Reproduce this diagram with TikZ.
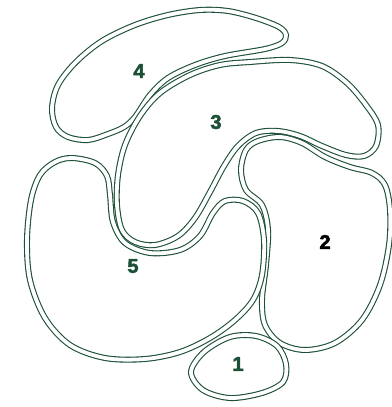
\documentclass[tikz,border=0pt]{standalone}
\usepackage{fontspec}
\newfontfamily\labfont{Liberation Sans}[BoldFeatures={FakeBold=2.5}]
\definecolor{dg}{RGB}{28,80,54}
\begin{document}
\begin{tikzpicture}[x=1pt,y=-1pt,
  blob/.style={draw=dg,line width=1.1pt,double=white,double distance=3.8pt},
  lab/.style={font=\labfont\bfseries\fontsize{20}{20}\selectfont,text=dg}]
\useasboundingbox (0,0) rectangle (391,407);
% shape 4
\draw[blob] plot[smooth cycle,tension=0.55] coordinates {(52,108) (58,85) (76,62) (102,41) (135,25) (168,15) (200,10) (228,11) (256,18) (279,27) (286,35) (282,43) (265,49) (225,56) (195,65) (168,78) (150,95) (135,117) (124,127) (108,134) (88,140) (68,137) (56,127)};
% shape 3
\draw[blob] plot[smooth cycle,tension=0.55] coordinates {(250,62) (290,60) (322,66) (347,83) (366,105) (378,125) (376,146) (364,156) (346,155) (322,146) (300,136) (278,131) (256,133) (238,146) (224,166) (210,192) (195,218) (178,236) (155,245) (135,242) (122,230) (117,205) (118,175) (125,145) (140,116) (160,93) (190,75) (220,65)};
% shape 2
\draw[blob] plot[smooth cycle,tension=0.55] coordinates {(258,141) (280,137) (302,143) (325,157) (350,167) (372,173) (385,185) (390,210) (389,245) (380,285) (362,320) (335,343) (305,350) (280,343) (265,325) (262,300) (266,265) (268,230) (262,205) (246,190) (241,170) (246,150)};
% shape 5
\draw[blob] plot[smooth cycle,tension=0.55] coordinates {(72,158) (95,163) (107,176) (110,195) (113,222) (125,243) (150,253) (180,250) (200,236) (213,213) (225,201) (243,201) (258,213) (264,240) (262,275) (253,300) (235,320) (210,338) (180,352) (145,359) (105,358) (70,345) (45,318) (30,280) (27,240) (31,200) (40,175) (55,162)};
% shape 1
\draw[blob] plot[smooth cycle,tension=0.55] coordinates {(191,372) (204,352) (230,337) (256,336) (277,346) (286,364) (283,382) (262,393) (230,398) (203,390)};
\node[lab] (l4) at (139,71) {4};
\node[lab] (l3) at (216,122) {3};
\node[lab,text=black] (l2) at (325,242) {2};
\node[lab] (l5) at (133,266) {5};
\node[lab] (l1) at (238,364) {1};
\end{tikzpicture}
\end{document}
